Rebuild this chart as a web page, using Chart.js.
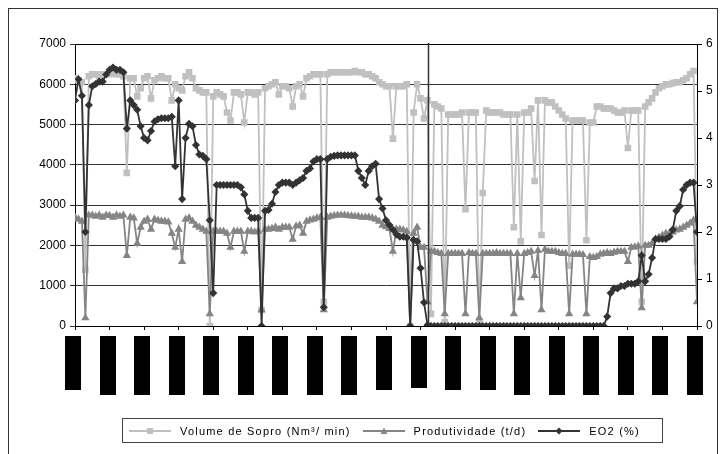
<!DOCTYPE html>
<html>
<head>
<meta charset="utf-8">
<script src="https://cdn.jsdelivr.net/npm/chart.js@4.4.1/dist/chart.umd.min.js"></script>
<style>
  body { margin: 0; background: #fff; font-family: "Liberation Sans", Arial, sans-serif; }
  #wrap { position: relative; width: 726px; height: 454px; overflow: hidden; }
  #frame { position: absolute; left: 8px; top: 8px; width: 710px; height: 460px; border: 1px solid #333; box-sizing: border-box; }
  canvas { position: absolute; left: 0; top: 0; }
  #legend {
    position: absolute; left: 122px; top: 418px; width: 541px; height: 25px;
    border: 1px solid #444; box-sizing: border-box;
    display: flex; align-items: center; padding-left: 6px;
    font-size: 11px; letter-spacing: 1.2px; color: #000;
  }
  #legend .item { display: flex; align-items: center; margin-right: 12px; }
  #legend svg { margin-right: 9px; }
</style>
</head>
<body>
<div id="wrap">
  <div id="frame"></div>
  <canvas id="chart" width="726" height="454"></canvas>
  <div id="legend"></div>
</div>
<script>
// 18 days, 10 readings per day (sample index 0..180)
const samplesPerDay = 10;
const dayCount = 18;

// Volume de Sopro (Nm3/min) - left axis
const volume = [
  6150, 6100, 6050, 1400, 6200, 6250, 6250, 6200, 6250, 6250,
  6250, 6280, 6250, 6250, 6200, 3800, 6150, 6150, 5700, 5900,
  6150, 6200, 5650, 6100, 6150, 6200, 6150, 6150, 5600, 6000,
  5900, 5850, 6200, 6300, 6150, 5900, 5850, 5800, 5800, 0,
  5700, 5800, 5750, 5700, 5300, 5100, 5800, 5800, 5750, 5050,
  5800, 5800, 5750, 5800, 400, 5900, 5950, 6000, 6050, 5750,
  5950, 5950, 5900, 5450, 5950, 6000, 5700, 6150, 6200, 6250,
  6250, 6250, 600, 6250, 6300, 6300, 6300, 6300, 6300, 6300,
  6300, 6330, 6300, 6300, 6250, 6250, 6200, 6150, 6050, 6000,
  5950, 5950, 4650, 5950, 5950, 5950, 6000, 0, 5300, 6000,
  5650, 5150, 5600, 300, 5500, 5450, 5400, 100, 5250, 5250,
  5250, 5250, 5300, 2900, 5300, 5300, 5300, 100, 3300, 5350,
  5300, 5300, 5300, 5300, 5250, 5250, 5250, 2450, 5250, 2100,
  5300, 5300, 5400, 3600, 5600, 2260, 5600, 5550, 5550, 5450,
  5350, 5250, 5150, 1500, 5100, 5100, 5100, 5100, 2130, 5050,
  5050, 5450, 5450, 5400, 5400, 5400, 5350, 5300, 5300, 5350,
  4420, 5350, 5350, 5350, 600, 5450, 5550, 5650, 5800, 5900,
  5950, 6000, 6000, 6030, 6050, 6050, 6100, 6150, 6250, 6330,
  1600
];

// Produtividade (t/d) - left axis
const productivity = [
  2700, 2650, 2600, 200, 2750, 2750, 2720, 2750, 2700, 2750,
  2740, 2700, 2750, 2720, 2750, 1750, 2700, 2680, 2050, 2450,
  2600, 2650, 2400, 2650, 2620, 2600, 2600, 2580, 2300, 1950,
  2400, 1600, 2650, 2680, 2600, 2500, 2450, 2400, 2350, 300,
  2350, 2350, 2350, 2350, 2300, 1950, 2350, 2350, 2350, 1850,
  2350, 2350, 2330, 2350, 400, 2400, 2400, 2420, 2450, 2400,
  2450, 2450, 2450, 2150, 2480, 2500, 2300, 2600, 2630, 2650,
  2680, 2700, 400, 2700, 2720, 2740, 2750, 2750, 2750, 2740,
  2730, 2720, 2720, 2700, 2700, 2700, 2680, 2650, 2600, 2500,
  2460, 2420, 1850, 2400, 2400, 2380, 2350, 0, 2300, 2450,
  1950, 1950, 600, 1850, 1850, 1820, 1800, 300, 1800, 1800,
  1800, 1800, 1800, 300, 1820, 1800, 1800, 200, 1800, 1800,
  1800, 1800, 1820, 1800, 1800, 1800, 1800, 300, 1800, 700,
  1800, 1820, 1850, 1250, 1870, 400, 1900, 1850, 1850, 1850,
  1820, 1800, 1800, 300, 1780, 1780, 1780, 1770, 300, 1720,
  1700, 1720, 1780, 1800, 1820, 1800, 1830, 1850, 1850, 1850,
  1600, 1950, 1960, 1980, 450, 2000, 2000, 2050, 2150, 2200,
  2250, 2300, 2300, 2330, 2380, 2400, 2450, 2500, 2550, 2630,
  600
];

// EO2 (%) - right axis
const eo2 = [
  4.8, 5.25, 4.9, 2.0, 4.7, 5.1, 5.15, 5.2, 5.2, 5.35,
  5.45, 5.5, 5.45, 5.45, 5.4, 4.2, 4.8, 4.7, 4.6, 4.25,
  4.0, 3.95, 4.15, 4.35, 4.4, 4.42, 4.42, 4.42, 4.45, 3.4,
  4.8, 2.7, 4.0, 4.3, 4.25, 3.85, 3.65, 3.62, 3.55, 2.25,
  0.7, 3.0, 3.0, 3.0, 3.0, 3.0, 3.0, 3.0, 2.95, 2.8,
  2.45, 2.3, 2.3, 2.3, 0, 2.45, 2.47, 2.6, 2.85, 3.0,
  3.05, 3.05, 3.05, 3.0, 3.05, 3.1, 3.15, 3.3, 3.35, 3.5,
  3.55, 3.55, 0.4, 3.55, 3.6, 3.62, 3.63, 3.63, 3.63, 3.63,
  3.63, 3.63, 3.3, 3.15, 3.0, 3.3, 3.4, 3.45, 2.7, 2.5,
  2.25, 2.15, 2.05, 1.95, 1.9, 1.9, 1.88, 0, 1.83, 1.8,
  1.23, 0.5, 0.02, 0, 0, 0, 0, 0, 0, 0,
  0, 0, 0, 0, 0, 0, 0, 0, 0, 0,
  0, 0, 0, 0, 0, 0, 0, 0, 0, 0,
  0, 0, 0, 0, 0, 0, 0, 0, 0, 0,
  0, 0, 0, 0, 0, 0, 0, 0, 0, 0,
  0, 0, 0, 0, 0.2, 0.7, 0.8, 0.8, 0.85, 0.85,
  0.9, 0.9, 0.9, 0.95, 1.5, 0.95, 1.1, 1.45, 1.85, 1.85,
  1.85, 1.85, 1.9, 2.05, 2.45, 2.55, 2.9, 3.0, 3.05, 3.05,
  2.0
];

const seriesNames = ['Volume de Sopro (Nm³/ min)', 'Produtividade (t/d)', 'EO2 (%)'];
const leftTicks = [0, 1000, 2000, 3000, 4000, 5000, 6000, 7000];
const rightTicks = [0, 1, 2, 3, 4, 5, 6];
const markerAt = 102.2; // vertical reference line (sample index)

const toXY = arr => arr.map((v, i) => ({ x: i, y: v }));

// date labels in the original are blacked out: draw them as black blocks
const labelBlockBottoms = [390, 395, 395, 395, 395, 395, 395, 395, 395, 390, 388, 390, 390, 395, 395, 395, 395, 395, 395];

const extrasPlugin = {
  id: 'extras',
  afterDatasetsDraw(chart) {
    const ctx = chart.ctx;
    const a = chart.chartArea;
    const xs = chart.scales.x;
    ctx.save();
    // top border of plot
    ctx.strokeStyle = '#000';
    ctx.lineWidth = 1;
    ctx.beginPath();
    ctx.moveTo(a.left, a.top + 0.5);
    ctx.lineTo(a.right, a.top + 0.5);
    ctx.stroke();
    // vertical reference line
    const mx = Math.round(xs.getPixelForValue(markerAt)) + 0.5;
    ctx.strokeStyle = '#333';
    ctx.lineWidth = 1.5;
    ctx.beginPath();
    ctx.moveTo(mx, a.top - 1);
    ctx.lineTo(mx, a.bottom);
    ctx.stroke();
    // blacked-out date labels
    ctx.fillStyle = '#000';
    for (let d = 0; d <= dayCount; d++) {
      const x = xs.getPixelForValue(d * samplesPerDay);
      const top = a.bottom + 10;
      ctx.fillRect(Math.round(x - 10), top, 16, labelBlockBottoms[d] - top);
    }
    ctx.restore();
  }
};

const chart = new Chart(document.getElementById('chart'), {
  type: 'line',
  data: {
    datasets: [
      {
        label: seriesNames[0], data: toXY(volume), yAxisID: 'y',
        borderColor: '#c0c0c0', backgroundColor: '#c0c0c0',
        pointStyle: 'rect', pointRadius: 3.4, borderWidth: 1.8, order: 2
      },
      {
        label: seriesNames[1], data: toXY(productivity), yAxisID: 'y',
        borderColor: '#858585', backgroundColor: '#858585',
        pointStyle: 'triangle', pointRadius: 3, borderWidth: 1.8, order: 1
      },
      {
        label: seriesNames[2], data: toXY(eo2), yAxisID: 'y1',
        borderColor: '#333333', backgroundColor: '#333333',
        pointStyle: 'rectRot', pointRadius: 2.8, borderWidth: 1.8, order: 0
      }
    ]
  },
  options: {
    responsive: false,
    animation: false,
    events: [],
    layout: { padding: { top: 44, left: 0, right: 0, bottom: 0 } },
    plugins: { legend: { display: false }, tooltip: { enabled: false } },
    elements: { line: { tension: 0 }, point: { borderWidth: 1 } },
    scales: {
      x: {
        type: 'linear', min: 0, max: dayCount * samplesPerDay,
        ticks: { display: false, stepSize: samplesPerDay },
        grid: { drawOnChartArea: false, drawTicks: true, tickLength: 4, color: '#000' },
        border: { color: '#000', width: 1 },
        afterFit: s => { s.height = 128; }
      },
      y: {
        position: 'left', min: 0, max: 7000,
        afterBuildTicks: s => { s.ticks = leftTicks.map(v => ({ value: v })); },
        ticks: { color: '#000', font: { family: 'Liberation Sans', size: 12 }, padding: 4, callback: v => String(v) },
        grid: { color: '#333', tickLength: 5, lineWidth: 1 },
        border: { color: '#000', width: 1 },
        afterFit: s => { s.width = 75; }
      },
      y1: {
        position: 'right', min: 0, max: 6,
        afterBuildTicks: s => { s.ticks = rightTicks.map(v => ({ value: v })); },
        ticks: { color: '#000', font: { family: 'Liberation Sans', size: 12 }, padding: 4, callback: v => String(v) },
        grid: { drawOnChartArea: false, color: '#000', tickLength: 5 },
        border: { color: '#000', width: 1 },
        afterFit: s => { s.width = 29; }
      }
    }
  },
  plugins: [extrasPlugin]
});

// legend: line sample with marker, built from the datasets
function markerSvg(style, color) {
  const cx = 21, cy = 5;
  let shape;
  if (style === 'rect') shape = `<rect x="${cx - 3}" y="${cy - 3}" width="6" height="6" fill="${color}"/>`;
  else if (style === 'triangle') shape = `<polygon points="${cx},${cy - 3.5} ${cx + 3.5},${cy + 3} ${cx - 3.5},${cy + 3}" fill="${color}"/>`;
  else shape = `<polygon points="${cx},${cy - 3.5} ${cx + 3.5},${cy} ${cx},${cy + 3.5} ${cx - 3.5},${cy}" fill="${color}"/>`;
  return `<svg width="42" height="10"><line x1="0" y1="${cy}" x2="42" y2="${cy}" stroke="${color}" stroke-width="1.8"/>${shape}</svg>`;
}
const legendEl = document.getElementById('legend');
chart.data.datasets.forEach(ds => {
  const item = document.createElement('div');
  item.className = 'item';
  item.innerHTML = markerSvg(ds.pointStyle, ds.borderColor) + `<span>${ds.label}</span>`;
  legendEl.appendChild(item);
});
</script>
</body>
</html>
